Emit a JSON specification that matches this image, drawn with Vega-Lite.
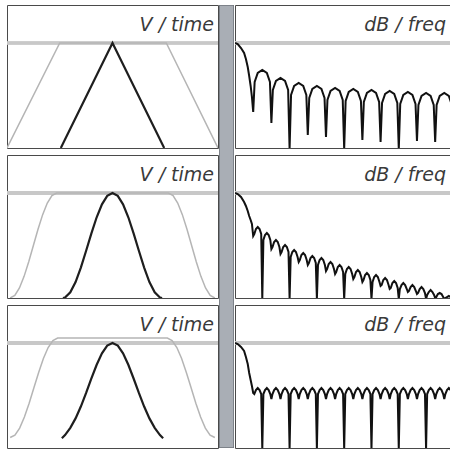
{
"$schema":"https://vega.github.io/schema/vega-lite/v6.json",
"padding":{"left":6,"top":4,"right":0,"bottom":0},
"autosize":{"type":"pad"},
"background":"white",
"config":{"view":{"stroke":"#4a4a4a","strokeWidth":1,"fill":"white"}},
"datasets":{
"w1":[{"s":"g","t":-1,"v":0},{"s":"g","t":-0.5,"v":1},{"s":"g","t":0.51,"v":1},{"s":"g","t":1,"v":0},
{"s":"b","t":-0.49,"v":0},{"s":"b","t":0,"v":1},{"s":"b","t":0.49,"v":0}],
"w2":[{"s":"g","t":-0.97,"v":0},{"s":"g","t":-0.926,"v":0.0245},{"s":"g","t":-0.882,"v":0.0955},{"s":"g","t":-0.838,"v":0.2061},{"s":"g","t":-0.794,"v":0.3455},{"s":"g","t":-0.75,"v":0.5},{"s":"g","t":-0.706,"v":0.6545},{"s":"g","t":-0.662,"v":0.7939},{"s":"g","t":-0.618,"v":0.9045},{"s":"g","t":-0.574,"v":0.9755},{"s":"g","t":-0.53,"v":1},
{"s":"g","t":0.53,"v":1},{"s":"g","t":0.574,"v":0.9755},{"s":"g","t":0.618,"v":0.9045},{"s":"g","t":0.662,"v":0.7939},{"s":"g","t":0.706,"v":0.6545},{"s":"g","t":0.75,"v":0.5},{"s":"g","t":0.794,"v":0.3455},{"s":"g","t":0.838,"v":0.2061},{"s":"g","t":0.882,"v":0.0955},{"s":"g","t":0.926,"v":0.0245},{"s":"g","t":0.97,"v":0},
{"s":"b","t":-0.47,"v":0},{"s":"b","t":-0.45,"v":0.0044},{"s":"b","t":-0.4,"v":0.0545},{"s":"b","t":-0.35,"v":0.1519},{"s":"b","t":-0.3,"v":0.2894},{"s":"b","t":-0.25,"v":0.45},{"s":"b","t":-0.2,"v":0.6159},{"s":"b","t":-0.15,"v":0.769},{"s":"b","t":-0.1,"v":0.8925},{"s":"b","t":-0.05,"v":0.9724},{"s":"b","t":0,"v":1},
{"s":"b","t":0.05,"v":0.9724},{"s":"b","t":0.1,"v":0.8925},{"s":"b","t":0.15,"v":0.769},{"s":"b","t":0.2,"v":0.6159},{"s":"b","t":0.25,"v":0.45},{"s":"b","t":0.3,"v":0.2894},{"s":"b","t":0.35,"v":0.1519},{"s":"b","t":0.4,"v":0.0545},{"s":"b","t":0.45,"v":0.0044},{"s":"b","t":0.47,"v":0}],
"w3":[{"s":"g","t":-0.97,"v":0.1},{"s":"g","t":-0.925,"v":0.123},{"s":"g","t":-0.88,"v":0.19},{"s":"g","t":-0.835,"v":0.295},{"s":"g","t":-0.79,"v":0.427},{"s":"g","t":-0.745,"v":0.574},{"s":"g","t":-0.7,"v":0.72},{"s":"g","t":-0.655,"v":0.852},{"s":"g","t":-0.61,"v":0.957},{"s":"g","t":-0.565,"v":1.024},{"s":"g","t":-0.52,"v":1.047},
{"s":"g","t":0.52,"v":1.047},{"s":"g","t":0.565,"v":1.024},{"s":"g","t":0.61,"v":0.957},{"s":"g","t":0.655,"v":0.852},{"s":"g","t":0.7,"v":0.72},{"s":"g","t":0.745,"v":0.574},{"s":"g","t":0.79,"v":0.427},{"s":"g","t":0.835,"v":0.295},{"s":"g","t":0.88,"v":0.19},{"s":"g","t":0.925,"v":0.123},{"s":"g","t":0.97,"v":0.1},
{"s":"b","t":-0.48,"v":0.093},{"s":"b","t":-0.45,"v":0.123},{"s":"b","t":-0.4,"v":0.192},{"s":"b","t":-0.35,"v":0.282},{"s":"b","t":-0.3,"v":0.395},{"s":"b","t":-0.25,"v":0.524},{"s":"b","t":-0.2,"v":0.662},{"s":"b","t":-0.15,"v":0.793},{"s":"b","t":-0.1,"v":0.902},{"s":"b","t":-0.05,"v":0.975},{"s":"b","t":0,"v":1},
{"s":"b","t":0.05,"v":0.975},{"s":"b","t":0.1,"v":0.902},{"s":"b","t":0.15,"v":0.793},{"s":"b","t":0.2,"v":0.662},{"s":"b","t":0.25,"v":0.524},{"s":"b","t":0.3,"v":0.395},{"s":"b","t":0.35,"v":0.282},{"s":"b","t":0.4,"v":0.192},{"s":"b","t":0.45,"v":0.123},{"s":"b","t":0.48,"v":0.093}],
"s1":[{"f":0,"d":0},{"f":0.15,"d":-1},{"f":0.33,"d":-5},{"f":0.5,"d":-10},{"f":0.6,"d":-16},{"f":0.7,"d":-24},{"f":0.78,"d":-33},{"f":0.86,"d":-43},{"f":0.93,"d":-54},{"f":1,"d":-69},
{"f":1.08,"d":-39},{"f":1.25,"d":-30},{"f":1.5,"d":-27},{"f":1.75,"d":-30},{"f":1.92,"d":-39},{"f":2,"d":-80},
{"f":2.08,"d":-47},{"f":2.25,"d":-38},{"f":2.5,"d":-35},{"f":2.75,"d":-38},{"f":2.92,"d":-47},{"f":3,"d":-106},
{"f":3.08,"d":-52},{"f":3.25,"d":-43},{"f":3.5,"d":-40},{"f":3.75,"d":-43},{"f":3.92,"d":-52},{"f":4,"d":-92},
{"f":4.08,"d":-55},{"f":4.25,"d":-46},{"f":4.5,"d":-43},{"f":4.75,"d":-46},{"f":4.92,"d":-55},{"f":5,"d":-94},
{"f":5.08,"d":-57},{"f":5.25,"d":-48},{"f":5.5,"d":-45},{"f":5.75,"d":-48},{"f":5.92,"d":-57},{"f":6,"d":-106},
{"f":6.08,"d":-58},{"f":6.25,"d":-49},{"f":6.5,"d":-46},{"f":6.75,"d":-49},{"f":6.92,"d":-58},{"f":7,"d":-97},
{"f":7.08,"d":-59},{"f":7.25,"d":-50},{"f":7.5,"d":-47},{"f":7.75,"d":-50},{"f":7.92,"d":-59},{"f":8,"d":-99},
{"f":8.08,"d":-60},{"f":8.25,"d":-51},{"f":8.5,"d":-48},{"f":8.75,"d":-51},{"f":8.92,"d":-60},{"f":9,"d":-106},
{"f":9.08,"d":-61},{"f":9.25,"d":-52},{"f":9.5,"d":-49},{"f":9.75,"d":-52},{"f":9.92,"d":-61},{"f":10,"d":-98},
{"f":10.08,"d":-62},{"f":10.25,"d":-53},{"f":10.5,"d":-50},{"f":10.75,"d":-53},{"f":10.92,"d":-62},{"f":11,"d":-99},
{"f":11.08,"d":-62},{"f":11.25,"d":-53},{"f":11.5,"d":-50},{"f":11.75,"d":-53},{"f":11.92,"d":-62},{"f":12,"d":-100}],
"s2":[{"f":0,"d":0},{"f":0.15,"d":-1},{"f":0.33,"d":-4},{"f":0.5,"d":-9},{"f":0.6,"d":-13},{"f":0.7,"d":-18},{"f":0.78,"d":-23},{"f":0.86,"d":-27},{"f":0.93,"d":-31},{"f":1,"d":-43},
{"f":1.06,"d":-41},{"f":1.15,"d":-36},{"f":1.25,"d":-34},{"f":1.35,"d":-36},{"f":1.44,"d":-41},{"f":1.5,"d":-106},
{"f":1.56,"d":-47},{"f":1.65,"d":-42},{"f":1.75,"d":-40},{"f":1.85,"d":-42},{"f":1.94,"d":-47},{"f":2,"d":-56},
{"f":2.06,"d":-54},{"f":2.15,"d":-49},{"f":2.25,"d":-47},{"f":2.35,"d":-49},{"f":2.44,"d":-54},{"f":2.5,"d":-61},
{"f":2.56,"d":-59},{"f":2.65,"d":-54},{"f":2.75,"d":-52},{"f":2.85,"d":-54},{"f":2.94,"d":-59},{"f":3,"d":-106},
{"f":3.06,"d":-64},{"f":3.15,"d":-59},{"f":3.25,"d":-57},{"f":3.35,"d":-59},{"f":3.44,"d":-64},{"f":3.5,"d":-69},
{"f":3.56,"d":-67},{"f":3.65,"d":-62},{"f":3.75,"d":-60},{"f":3.85,"d":-62},{"f":3.94,"d":-67},{"f":4,"d":-72},
{"f":4.06,"d":-70},{"f":4.15,"d":-65},{"f":4.25,"d":-63},{"f":4.35,"d":-65},{"f":4.44,"d":-70},{"f":4.5,"d":-106},
{"f":4.56,"d":-72},{"f":4.65,"d":-67},{"f":4.75,"d":-65},{"f":4.85,"d":-67},{"f":4.94,"d":-72},{"f":5,"d":-78},
{"f":5.06,"d":-76},{"f":5.15,"d":-71},{"f":5.25,"d":-69},{"f":5.35,"d":-71},{"f":5.44,"d":-76},{"f":5.5,"d":-81},
{"f":5.56,"d":-79},{"f":5.65,"d":-74},{"f":5.75,"d":-72},{"f":5.85,"d":-74},{"f":5.94,"d":-79},{"f":6,"d":-106},
{"f":6.06,"d":-81},{"f":6.15,"d":-76},{"f":6.25,"d":-74},{"f":6.35,"d":-76},{"f":6.44,"d":-81},{"f":6.5,"d":-86},
{"f":6.56,"d":-84},{"f":6.65,"d":-79},{"f":6.75,"d":-77},{"f":6.85,"d":-79},{"f":6.94,"d":-84},{"f":7,"d":-89},
{"f":7.06,"d":-87},{"f":7.15,"d":-82},{"f":7.25,"d":-80},{"f":7.35,"d":-82},{"f":7.44,"d":-87},{"f":7.5,"d":-106},
{"f":7.56,"d":-89},{"f":7.65,"d":-84},{"f":7.75,"d":-82},{"f":7.85,"d":-84},{"f":7.94,"d":-89},{"f":8,"d":-93},
{"f":8.06,"d":-92},{"f":8.15,"d":-87},{"f":8.25,"d":-85},{"f":8.35,"d":-87},{"f":8.44,"d":-92},{"f":8.5,"d":-96},
{"f":8.56,"d":-95},{"f":8.65,"d":-90},{"f":8.75,"d":-88},{"f":8.85,"d":-90},{"f":8.94,"d":-95},{"f":9,"d":-106},
{"f":9.06,"d":-96},{"f":9.15,"d":-92},{"f":9.25,"d":-90},{"f":9.35,"d":-92},{"f":9.44,"d":-96},{"f":9.5,"d":-99},
{"f":9.56,"d":-98},{"f":9.65,"d":-94},{"f":9.75,"d":-92},{"f":9.85,"d":-94},{"f":9.94,"d":-98},{"f":10,"d":-101},
{"f":10.06,"d":-100},{"f":10.15,"d":-96},{"f":10.25,"d":-94},{"f":10.35,"d":-96},{"f":10.44,"d":-100},{"f":10.5,"d":-106},
{"f":10.56,"d":-102},{"f":10.65,"d":-99},{"f":10.75,"d":-97},{"f":10.85,"d":-99},{"f":10.94,"d":-102},{"f":11,"d":-105},
{"f":11.06,"d":-104},{"f":11.15,"d":-101},{"f":11.25,"d":-100},{"f":11.35,"d":-101},{"f":11.44,"d":-104},{"f":11.5,"d":-106},
{"f":11.56,"d":-105},{"f":11.65,"d":-104},{"f":11.75,"d":-103},{"f":11.85,"d":-104},{"f":12,"d":-106}],
"s3":[{"f":0,"d":0},{"f":0.15,"d":-1},{"f":0.33,"d":-4},{"f":0.5,"d":-8},{"f":0.6,"d":-14},{"f":0.7,"d":-21},{"f":0.78,"d":-30},{"f":0.86,"d":-37},{"f":0.93,"d":-43},{"f":1,"d":-50},
{"f":1.06,"d":-51},{"f":1.15,"d":-47},{"f":1.25,"d":-45},{"f":1.35,"d":-47},{"f":1.44,"d":-51},{"f":1.5,"d":-106},
{"f":1.56,"d":-51},{"f":1.65,"d":-47},{"f":1.75,"d":-45},{"f":1.85,"d":-47},{"f":1.94,"d":-51},{"f":2,"d":-56},
{"f":2.06,"d":-51},{"f":2.15,"d":-47},{"f":2.25,"d":-45},{"f":2.35,"d":-47},{"f":2.44,"d":-51},{"f":2.5,"d":-56},
{"f":2.56,"d":-51},{"f":2.65,"d":-47},{"f":2.75,"d":-45},{"f":2.85,"d":-47},{"f":2.94,"d":-51},{"f":3,"d":-106},
{"f":3.06,"d":-51},{"f":3.15,"d":-47},{"f":3.25,"d":-45},{"f":3.35,"d":-47},{"f":3.44,"d":-51},{"f":3.5,"d":-56},
{"f":3.56,"d":-51},{"f":3.65,"d":-47},{"f":3.75,"d":-45},{"f":3.85,"d":-47},{"f":3.94,"d":-51},{"f":4,"d":-56},
{"f":4.06,"d":-51},{"f":4.15,"d":-47},{"f":4.25,"d":-45},{"f":4.35,"d":-47},{"f":4.44,"d":-51},{"f":4.5,"d":-106},
{"f":4.56,"d":-51},{"f":4.65,"d":-47},{"f":4.75,"d":-45},{"f":4.85,"d":-47},{"f":4.94,"d":-51},{"f":5,"d":-56},
{"f":5.06,"d":-51},{"f":5.15,"d":-47},{"f":5.25,"d":-45},{"f":5.35,"d":-47},{"f":5.44,"d":-51},{"f":5.5,"d":-56},
{"f":5.56,"d":-51},{"f":5.65,"d":-47},{"f":5.75,"d":-45},{"f":5.85,"d":-47},{"f":5.94,"d":-51},{"f":6,"d":-106},
{"f":6.06,"d":-51},{"f":6.15,"d":-47},{"f":6.25,"d":-45},{"f":6.35,"d":-47},{"f":6.44,"d":-51},{"f":6.5,"d":-56},
{"f":6.56,"d":-51},{"f":6.65,"d":-47},{"f":6.75,"d":-45},{"f":6.85,"d":-47},{"f":6.94,"d":-51},{"f":7,"d":-56},
{"f":7.06,"d":-51},{"f":7.15,"d":-47},{"f":7.25,"d":-45},{"f":7.35,"d":-47},{"f":7.44,"d":-51},{"f":7.5,"d":-106},
{"f":7.56,"d":-51},{"f":7.65,"d":-47},{"f":7.75,"d":-45},{"f":7.85,"d":-47},{"f":7.94,"d":-51},{"f":8,"d":-56},
{"f":8.06,"d":-51},{"f":8.15,"d":-47},{"f":8.25,"d":-45},{"f":8.35,"d":-47},{"f":8.44,"d":-51},{"f":8.5,"d":-56},
{"f":8.56,"d":-51},{"f":8.65,"d":-47},{"f":8.75,"d":-45},{"f":8.85,"d":-47},{"f":8.94,"d":-51},{"f":9,"d":-106},
{"f":9.06,"d":-51},{"f":9.15,"d":-47},{"f":9.25,"d":-45},{"f":9.35,"d":-47},{"f":9.44,"d":-51},{"f":9.5,"d":-56},
{"f":9.56,"d":-51},{"f":9.65,"d":-47},{"f":9.75,"d":-45},{"f":9.85,"d":-47},{"f":9.94,"d":-51},{"f":10,"d":-56},
{"f":10.06,"d":-51},{"f":10.15,"d":-47},{"f":10.25,"d":-45},{"f":10.35,"d":-47},{"f":10.44,"d":-51},{"f":10.5,"d":-106},
{"f":10.56,"d":-51},{"f":10.65,"d":-47},{"f":10.75,"d":-45},{"f":10.85,"d":-47},{"f":10.94,"d":-51},{"f":11,"d":-56},
{"f":11.06,"d":-51},{"f":11.15,"d":-47},{"f":11.25,"d":-45},{"f":11.35,"d":-47},{"f":11.44,"d":-51},{"f":11.5,"d":-56},
{"f":11.56,"d":-51},{"f":11.65,"d":-47},{"f":11.75,"d":-45},{"f":11.85,"d":-47},{"f":11.94,"d":-51},{"f":12,"d":-56}],
"bar":[{"x0":0,"x1":1,"y0":0,"y1":1}]
},
"spacing":0,
"hconcat":[
{"spacing":7,"bounds":"flush","vconcat":[
{"width":211,"height":143,"data":{"name":"w1"},"layer":[
{"mark":{"type":"rule","color":"#c8c8c8","strokeWidth":2.5,"clip":true},"encoding":{"y":{"datum":1,"type":"quantitative","scale":{"domain":[0,1.362],"nice":false},"axis":null}}},
{"transform":[{"filter":"datum.s=='g'"}],"mark":{"type":"line","color":"#b5b5b5","strokeWidth":1.5,"clip":true},"encoding":{"x":{"field":"t","type":"quantitative","scale":{"domain":[-1,1],"nice":false,"zero":false},"axis":null},"y":{"field":"v","type":"quantitative","axis":null}}},
{"transform":[{"filter":"datum.s=='b'"}],"mark":{"type":"line","color":"#1e1e1e","strokeWidth":2.2,"clip":true},"encoding":{"x":{"field":"t","type":"quantitative","axis":null},"y":{"field":"v","type":"quantitative","axis":null}}},
{"data":{"values":[{"label":"V / time"}]},"mark":{"type":"text","align":"right","baseline":"alphabetic","dx":-4,"font":"DejaVu Sans","fontStyle":"italic","fontSize":19,"color":"#3a3a3a","clip":true},"encoding":{"text":{"field":"label"},"x":{"datum":1,"type":"quantitative","axis":null},"y":{"datum":1.115,"type":"quantitative","axis":null}}}
]},
{"width":211,"height":143,"data":{"name":"w2"},"layer":[
{"mark":{"type":"rule","color":"#c8c8c8","strokeWidth":2.5,"clip":true},"encoding":{"y":{"datum":1,"type":"quantitative","scale":{"domain":[0,1.362],"nice":false},"axis":null}}},
{"transform":[{"filter":"datum.s=='g'"}],"mark":{"type":"line","color":"#b5b5b5","strokeWidth":1.5,"clip":true},"encoding":{"x":{"field":"t","type":"quantitative","scale":{"domain":[-1,1],"nice":false,"zero":false},"axis":null},"y":{"field":"v","type":"quantitative","axis":null}}},
{"transform":[{"filter":"datum.s=='b'"}],"mark":{"type":"line","color":"#1e1e1e","strokeWidth":2.2,"clip":true},"encoding":{"x":{"field":"t","type":"quantitative","axis":null},"y":{"field":"v","type":"quantitative","axis":null}}},
{"data":{"values":[{"label":"V / time"}]},"mark":{"type":"text","align":"right","baseline":"alphabetic","dx":-4,"font":"DejaVu Sans","fontStyle":"italic","fontSize":19,"color":"#3a3a3a","clip":true},"encoding":{"text":{"field":"label"},"x":{"datum":1,"type":"quantitative","axis":null},"y":{"datum":1.115,"type":"quantitative","axis":null}}}
]},
{"width":211,"height":143,"data":{"name":"w3"},"layer":[
{"mark":{"type":"rule","color":"#c8c8c8","strokeWidth":2.5,"clip":true},"encoding":{"y":{"datum":1,"type":"quantitative","scale":{"domain":[0,1.362],"nice":false},"axis":null}}},
{"transform":[{"filter":"datum.s=='g'"}],"mark":{"type":"line","color":"#b5b5b5","strokeWidth":1.5,"clip":true},"encoding":{"x":{"field":"t","type":"quantitative","scale":{"domain":[-1,1],"nice":false,"zero":false},"axis":null},"y":{"field":"v","type":"quantitative","axis":null}}},
{"transform":[{"filter":"datum.s=='b'"}],"mark":{"type":"line","color":"#1e1e1e","strokeWidth":2.2,"clip":true},"encoding":{"x":{"field":"t","type":"quantitative","axis":null},"y":{"field":"v","type":"quantitative","axis":null}}},
{"data":{"values":[{"label":"V / time"}]},"mark":{"type":"text","align":"right","baseline":"alphabetic","dx":-4,"font":"DejaVu Sans","fontStyle":"italic","fontSize":19,"color":"#3a3a3a","clip":true},"encoding":{"text":{"field":"label"},"x":{"datum":1,"type":"quantitative","axis":null},"y":{"datum":1.115,"type":"quantitative","axis":null}}}
]}
]},
{"width":15,"height":443,"data":{"name":"bar"},"view":{"stroke":null},"mark":{"type":"rect","color":"#a9aeb5","stroke":"#6f747b","strokeWidth":1.5,"clip":true},"encoding":{"x":{"field":"x0","type":"quantitative","scale":{"domain":[0,1],"nice":false},"axis":null},"x2":{"field":"x1"},"y":{"field":"y0","type":"quantitative","scale":{"domain":[0,1],"nice":false},"axis":null},"y2":{"field":"y1"}}},
{"spacing":7,"bounds":"flush","vconcat":[
{"width":216,"height":143,"data":{"name":"s1"},"layer":[
{"mark":{"type":"rule","color":"#c8c8c8","strokeWidth":2.5,"clip":true},"encoding":{"y":{"datum":0,"type":"quantitative","scale":{"domain":[-105,38],"nice":false,"zero":false},"axis":null}}},
{"mark":{"type":"line","color":"#111111","strokeWidth":2,"clip":true},"encoding":{"x":{"field":"f","type":"quantitative","scale":{"domain":[0,11.87],"nice":false,"zero":false},"axis":null},"y":{"field":"d","type":"quantitative","axis":null}}},
{"data":{"values":[{"label":"dB / freq"}]},"mark":{"type":"text","align":"right","baseline":"alphabetic","dx":-5,"font":"DejaVu Sans","fontStyle":"italic","fontSize":19,"color":"#3a3a3a","clip":true},"encoding":{"text":{"field":"label"},"x":{"datum":11.87,"type":"quantitative","axis":null},"y":{"datum":12,"type":"quantitative","axis":null}}}
]},
{"width":216,"height":143,"data":{"name":"s2"},"layer":[
{"mark":{"type":"rule","color":"#c8c8c8","strokeWidth":2.5,"clip":true},"encoding":{"y":{"datum":0,"type":"quantitative","scale":{"domain":[-105,38],"nice":false,"zero":false},"axis":null}}},
{"mark":{"type":"line","color":"#111111","strokeWidth":2,"clip":true},"encoding":{"x":{"field":"f","type":"quantitative","scale":{"domain":[0,11.87],"nice":false,"zero":false},"axis":null},"y":{"field":"d","type":"quantitative","axis":null}}},
{"data":{"values":[{"label":"dB / freq"}]},"mark":{"type":"text","align":"right","baseline":"alphabetic","dx":-5,"font":"DejaVu Sans","fontStyle":"italic","fontSize":19,"color":"#3a3a3a","clip":true},"encoding":{"text":{"field":"label"},"x":{"datum":11.87,"type":"quantitative","axis":null},"y":{"datum":12,"type":"quantitative","axis":null}}}
]},
{"width":216,"height":143,"data":{"name":"s3"},"layer":[
{"mark":{"type":"rule","color":"#c8c8c8","strokeWidth":2.5,"clip":true},"encoding":{"y":{"datum":0,"type":"quantitative","scale":{"domain":[-105,38],"nice":false,"zero":false},"axis":null}}},
{"mark":{"type":"line","color":"#111111","strokeWidth":2,"clip":true},"encoding":{"x":{"field":"f","type":"quantitative","scale":{"domain":[0,11.87],"nice":false,"zero":false},"axis":null},"y":{"field":"d","type":"quantitative","axis":null}}},
{"data":{"values":[{"label":"dB / freq"}]},"mark":{"type":"text","align":"right","baseline":"alphabetic","dx":-5,"font":"DejaVu Sans","fontStyle":"italic","fontSize":19,"color":"#3a3a3a","clip":true},"encoding":{"text":{"field":"label"},"x":{"datum":11.87,"type":"quantitative","axis":null},"y":{"datum":12,"type":"quantitative","axis":null}}}
]}
]}
]
}
